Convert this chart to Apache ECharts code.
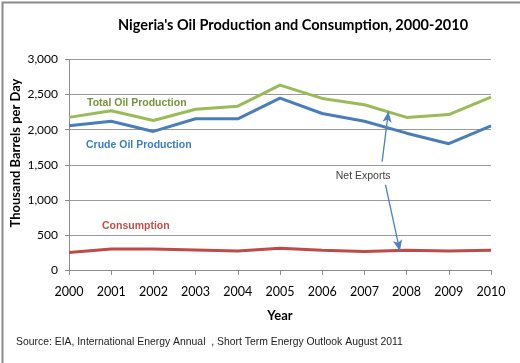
<!DOCTYPE html>
<html><head><meta charset="utf-8">
<script src="https://cdn.jsdelivr.net/npm/echarts@6/dist/echarts.min.js"></script>
<style>html,body{margin:0;padding:0;background:#fff}#c{width:520px;height:363px}</style>
</head><body><div id="c"></div>
<script>
const years = [2000,2001,2002,2003,2004,2005,2006,2007,2008,2009,2010];
const totalOil = [2175,2270,2130,2290,2335,2635,2445,2355,2175,2215,2465];
const crudeOil = [2055,2120,1975,2155,2155,2450,2230,2120,1950,1800,2055];
const consumption = [250,300,300,285,270,310,280,262,280,272,280];
const yTicks = [0,500,1000,1500,2000,2500,3000];
// annotation arrows (data coords: [year, value])
const arrowUp = [[2007.42,1545],[2007.57,2260]];
const arrowDown = [[2007.5,1215],[2007.84,272]];
const netExportsAt = [2006.97,1340];

const pair = arr => years.map((y,i)=>[y,arr[i]]);
const chart = echarts.init(document.getElementById('c'));
const gridTop = 59.5, gridBottom = 93, gridLeft = 69, gridRight = 29;
const arrowLine = (pts) => ({
  silent:true, symbol:['none','arrow'], symbolSize:[7,11],
  lineStyle:{color:'#4F81BD',width:1.3,type:'solid'}, label:{show:false},
  data:[[{coord:pts[0]},{coord:pts[1]}]]
});
chart.setOption({
  animation:false,
  backgroundColor:'#fff',
  grid:{left:gridLeft,right:gridRight,top:gridTop,bottom:gridBottom},
  xAxis:{type:'value',min:2000,max:2010,interval:1,name:'Year',nameLocation:'middle',nameGap:39,
    nameTextStyle:{fontFamily:'Lato',fontWeight:'bold',fontSize:13,color:'#000'},
    axisLine:{show:true,lineStyle:{color:'#8c8c8c',width:1}},
    axisTick:{show:true,length:5,lineStyle:{color:'#8c8c8c'}},
    axisLabel:{fontFamily:'Lato',fontSize:12.5,color:'#000',margin:15,formatter:v=>String(v)},
    splitLine:{show:false}},
  yAxis:{type:'value',min:0,max:3000,interval:500,
    axisLine:{show:true,lineStyle:{color:'#8c8c8c',width:1}},
    axisTick:{show:true,length:4,lineStyle:{color:'#8c8c8c'}},
    axisLabel:{fontFamily:'Lato',fontSize:12,color:'#000',margin:11,
      formatter:v=>yTicks.includes(v)?v.toLocaleString('en-US'):''},
    splitLine:{show:true,lineStyle:{color:'#9a9a9a',width:1}}},
  series:[
    {type:'line',data:pair(totalOil),symbol:'none',lineStyle:{color:'#9BBB59',width:3},
      markLine:arrowLine(arrowUp)},
    {type:'line',data:pair(crudeOil),symbol:'none',lineStyle:{color:'#4A7EBB',width:3},
      markLine:arrowLine(arrowDown)},
    {type:'line',data:pair(consumption),symbol:'none',lineStyle:{color:'#BE4B48',width:3},
      markPoint:{silent:true,symbol:'rect',symbolSize:1,itemStyle:{color:'rgba(0,0,0,0)'},
        label:{show:true,formatter:'Net Exports',color:'#404040',fontFamily:'Liberation Sans',fontSize:10.5},
        data:[{coord:netExportsAt}]}}
  ],
  graphic:[
    {type:'rect',left:0,top:0,shape:{x:0,y:0,width:519,height:362},style:{fill:'none',stroke:'#8a8a8a',lineWidth:2}},
    {type:'text',x:293,y:25,style:{text:"Nigeria's Oil Production and Consumption, 2000-2010",fill:'#000',
      font:'bold 14.5px Lato',textAlign:'center',textVerticalAlign:'middle'}},
    {type:'text',x:16,y:153,rotation:Math.PI/2,style:{text:'Thousand Barrels per Day',fill:'#000',
      font:'bold 13px Lato',textAlign:'center',textVerticalAlign:'middle'}},
    {type:'text',x:87,y:103,style:{text:'Total Oil Production',fill:'#76923C',font:'bold 10.5px "Liberation Sans"',textVerticalAlign:'middle'}},
    {type:'text',x:86,y:145,style:{text:'Crude Oil Production',fill:'#3C7DC4',font:'bold 10.5px "Liberation Sans"',textVerticalAlign:'middle'}},
    {type:'text',x:102,y:226,style:{text:'Consumption',fill:'#C0504D',font:'bold 10.5px "Liberation Sans"',textVerticalAlign:'middle'}},
    {type:'text',x:16,y:342,style:{text:'Source: EIA, International Energy Annual  , Short Term Energy Outlook August 2011',fill:'#222',font:'10.4px "Liberation Sans"',textVerticalAlign:'middle'}}
  ]
});
</script></body></html>
